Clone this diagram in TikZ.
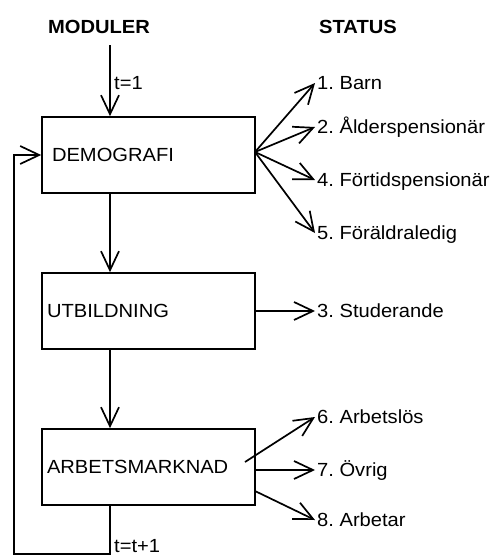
\documentclass[tikz,border=0pt]{standalone}
\usepackage{fontspec}
\setmainfont{Liberation Sans}[FakeStretch=1.06]
\usepackage{tikz}
\usetikzlibrary{arrows.meta}
\frenchspacing

\begin{document}
\begin{tikzpicture}[x=1pt,y=-1pt,
  every node/.style={font=\fontsize{19}{21}\selectfont},
  modbox/.style={draw,line width=1.7pt,minimum width=213pt,minimum height=76pt,
    inner xsep=5pt,text width=203pt,align=left},
  status/.style={anchor=west,inner sep=2pt,text height=13.6pt,text depth=0pt},
  flow/.style={line width=1.7pt,-{Straight Barb[length=19pt,width=18pt]}}]
\useasboundingbox (0,0) rectangle (500,557);
%Headings
\node[font=\fontsize{19}{21}\selectfont\bfseries] (moduler) at (99,27) {MODULER};
\node[font=\fontsize{19}{21}\selectfont\bfseries] (statusrub) at (358,27) {STATUS};
%Modules
\node[modbox] (demo) at (148.5,155) {\hspace*{5pt}DEMOGRAFI};
\node[modbox] (utb) at (148.5,311) {UTBILDNING};
\node[modbox] (arb) at (148.5,467) {ARBETSMARKNAD};
%Status labels
\node[status] (barn) at (315,83) {1. Barn};
\node[status] (alder) at (315,127) {2. Ålderspensionär};
\node[status] (fortid) at (315,180) {4. Förtidspensionär};
\node[status] (foraldr) at (315,233) {5. Föräldraledig};
\node[status] (stud) at (315,311) {3. Studerande};
\node[status] (arblos) at (315,417) {6. Arbetslös};
\node[status] (ovrig) at (315,470) {7. Övrig};
\node[status] (arbetar) at (315,520) {8. Arbetar};
%Time labels
\node[anchor=west,inner sep=2pt] (tett) at (112,83) {t=1};
\node[anchor=west,inner sep=2pt] (tnext) at (112,546) {t=t+1};
%Helper points
\coordinate (start) at (110,45);
\coordinate (fan) at (255,152);
\coordinate (fromsex) at (245,462);
\coordinate (fromatta) at (255,491);
\coordinate (loopb) at (14,554);
%Flow between modules
\draw[flow] (start) -- (start |- demo.north);
\draw[flow] (demo.south -| start) -- (utb.north -| start);
\draw[flow] (utb.south -| start) -- (arb.north -| start);
\draw[flow] (arb.south -| start) -- (start |- loopb) -- (loopb)
  -- (loopb |- demo.west) -- (demo.west);
%Status arrows
\foreach \s in {barn,alder,fortid,foraldr}
  \draw[flow] (fan) -- (\s.west);
\draw[flow] (utb.east |- stud.west) -- (stud.west);
\draw[flow] (fromsex) -- (arblos.west);
\draw[flow] (arb.east |- ovrig.west) -- (ovrig.west);
\draw[flow] (fromatta) -- (arbetar.west);
\end{tikzpicture}
\end{document}
